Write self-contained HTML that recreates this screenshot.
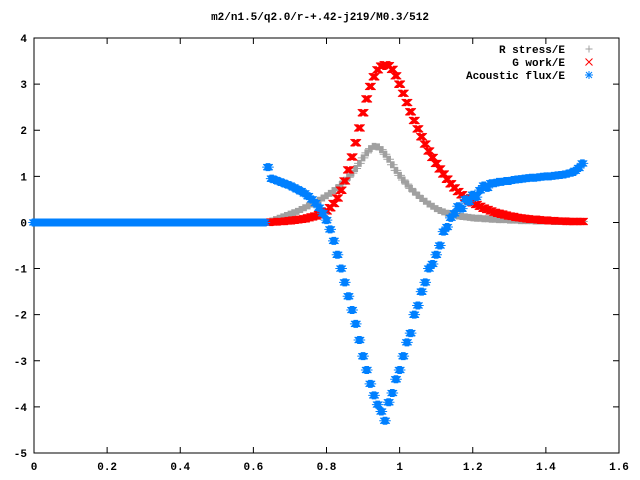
<!DOCTYPE html>
<html><head><meta charset="utf-8"><style>
body{margin:0;background:#fff}
svg{display:block}
text{font-family:"Liberation Mono",monospace;font-size:11px;font-weight:bold;fill:#000}
</style></head><body>
<svg id="chart" width="640" height="480">
<rect x="0" y="0" width="640" height="480" fill="#fff"/>
<text x="320" y="20" text-anchor="middle">m2/n1.5/q2.0/r-+.42-j219/M0.3/512</text>
<g id="axes"></g>
<g id="marks"></g>
<g id="legend"></g>
</svg>
<script>
const xTicks=[0,0.2,0.4,0.6,0.8,1,1.2,1.4,1.6];
const xTickLabels=["0","0.2","0.4","0.6","0.8","1","1.2","1.4","1.6"];
const yTicks=[-5,-4,-3,-2,-1,0,1,2,3,4];
const yTickLabels=["-5","-4","-3","-2","-1","0","1","2","3","4"];
const xStart=0.64, xStep=0.01;
const flatStart=0.0;
const blueFlat=[0,0,0,0,0,0,0,0,0,0,0,0,0,0,0,0,0,0,0,0,0,0,0,0,0,0,0,0,0,0,0,0,0,0,0,0,0,0,0,0,0,0,0,0,0,0,0,0,0,0,0,0,0,0,0,0,0,0,0,0,0,0,0,0];
const rStress=[0.00,0.03,0.06,0.09,0.12,0.15,0.18,0.21,0.24,0.28,0.32,0.36,0.40,0.44,0.48,0.53,0.58,0.63,0.69,0.75,0.82,0.90,0.98,1.07,1.17,1.28,1.40,1.51,1.60,1.65,1.64,1.58,1.48,1.37,1.25,1.13,1.02,0.92,0.83,0.74,0.66,0.59,0.52,0.46,0.40,0.35,0.30,0.26,0.23,0.20,0.18,0.16,0.14,0.13,0.12,0.11,0.10,0.09,0.09,0.08,0.08,0.07,0.07,0.06,0.06,0.06,0.05,0.05,0.05,0.04,0.04,0.04,0.04,0.03,0.03,0.03,0.03,0.03,0.02,0.02,0.02,0.02,0.02,0.02,0.02,0.02,0.02];
const gWork=[0.00,0.01,0.01,0.02,0.02,0.03,0.04,0.05,0.06,0.07,0.08,0.10,0.12,0.14,0.17,0.20,0.25,0.32,0.41,0.53,0.70,0.90,1.14,1.42,1.73,2.05,2.38,2.68,2.95,3.16,3.31,3.39,3.42,3.40,3.32,3.18,3.00,2.80,2.60,2.40,2.21,2.03,1.86,1.70,1.55,1.41,1.28,1.16,1.05,0.94,0.84,0.75,0.67,0.60,0.54,0.48,0.43,0.39,0.35,0.31,0.28,0.25,0.22,0.20,0.18,0.16,0.14,0.13,0.11,0.10,0.09,0.08,0.07,0.07,0.06,0.05,0.05,0.04,0.04,0.03,0.03,0.03,0.02,0.02,0.02,0.02,0.02];
const aFlux=[1.20,0.95,0.92,0.89,0.86,0.83,0.80,0.76,0.72,0.68,0.63,0.57,0.50,0.42,0.32,0.20,0.05,-0.15,-0.40,-0.70,-1.00,-1.30,-1.60,-1.90,-2.20,-2.55,-2.90,-3.20,-3.50,-3.75,-3.95,-4.10,-4.30,-3.90,-3.70,-3.40,-3.20,-2.90,-2.60,-2.40,-2.00,-1.80,-1.50,-1.30,-1.00,-0.90,-0.70,-0.50,-0.20,-0.10,0.10,0.20,0.35,0.30,0.50,0.45,0.60,0.55,0.70,0.80,0.75,0.85,0.85,0.88,0.88,0.90,0.90,0.92,0.93,0.94,0.95,0.96,0.97,0.97,0.98,0.99,1.00,1.00,1.01,1.02,1.03,1.04,1.06,1.08,1.12,1.18,1.28];

const L=34,R=619,T=38,B=453;
const xMin=0,xMax=1.6,yMin=-5,yMax=4;
const sx=v=>L+(v-xMin)/(xMax-xMin)*(R-L);
const sy=v=>B-(v-yMin)/(yMax-yMin)*(B-T);
const NS="http://www.w3.org/2000/svg";
const smear=[-1.8,-0.9,0,0.9,1.8];
function mk(tag,attrs,parent){const e=document.createElementNS(NS,tag);for(const k in attrs)e.setAttribute(k,attrs[k]);parent.appendChild(e);return e;}
const axes=document.getElementById('axes'),marks=document.getElementById('marks'),legend=document.getElementById('legend');

const frame=mk('rect',{x:L,y:T,width:R-L,height:B-T,fill:'none',stroke:'#000','stroke-width':1},axes);


xTicks.forEach((v,i)=>{
  const x=sx(v);
  const t=mk('path',{d:`M${x},${B}v-6M${x},${T}v6`,stroke:'#000'},axes);
  
  
  const lb=mk('text',{x:x,y:470,'text-anchor':'middle'},axes);lb.textContent=xTickLabels[i];
  
  
});
yTicks.forEach((v,i)=>{
  const y=sy(v);
  const t=mk('path',{d:`M${L},${y}h6M${R},${y}h-6`,stroke:'#000'},axes);
  
  
  const lb=mk('text',{x:27,y:y+4,'text-anchor':'end'},axes);lb.textContent=yTickLabels[i];
  
  
});

function plusD(x,y){return `M${x-3.5},${y}h7M${x},${y-3.5}v7`;}
function crossD(x,y){return `M${x-3.5},${y-3.5}l7,7M${x-3.5},${y+3.5}l7,-7`;}
function starD(x,y){return `M${x-4},${y}h8M${x},${y-4}v8M${x-3},${y-3}l6,6M${x-3},${y+3}l6,-6`;}
function marker(fn,x,y,c,g,dense){
  const d=dense?smear.map(o=>fn(x+o,y)).join(''):fn(x,y);
  return mk('path',{d:d,stroke:c,'stroke-width':1,fill:'none'},g);
}

const gG=mk('g',{},marks);


rStress.forEach((v,i)=>{const p=marker(plusD,sx(xStart+i*xStep),sy(v),'#a0a0a0',gG,true);
  
  });
const gR=mk('g',{},marks);


gWork.forEach((v,i)=>{const p=marker(crossD,sx(xStart+i*xStep),sy(v),'#ff0000',gR,true);
  
  });
const gB=mk('g',{},marks);


blueFlat.forEach((v,i)=>{const p=marker(starD,sx(flatStart+i*xStep),sy(v),'#0080ff',gB,true);
  
  });
aFlux.forEach((v,i)=>{const p=marker(starD,sx(xStart+i*xStep),sy(v),'#0080ff',gB,true);
  
  });

const leg=[["R stress/E",plusD,'#a0a0a0'],["G work/E",crossD,'#ff0000'],["Acoustic flux/E",starD,'#0080ff']];
leg.forEach((e,i)=>{
  const y=49+i*13;
  const t=mk('text',{x:565,y:y+4,'text-anchor':'end'},legend);t.textContent=e[0];
  
  
  const m=marker(e[1],589,y,e[2],legend,false);
  
  
});
</script>
</body></html>
